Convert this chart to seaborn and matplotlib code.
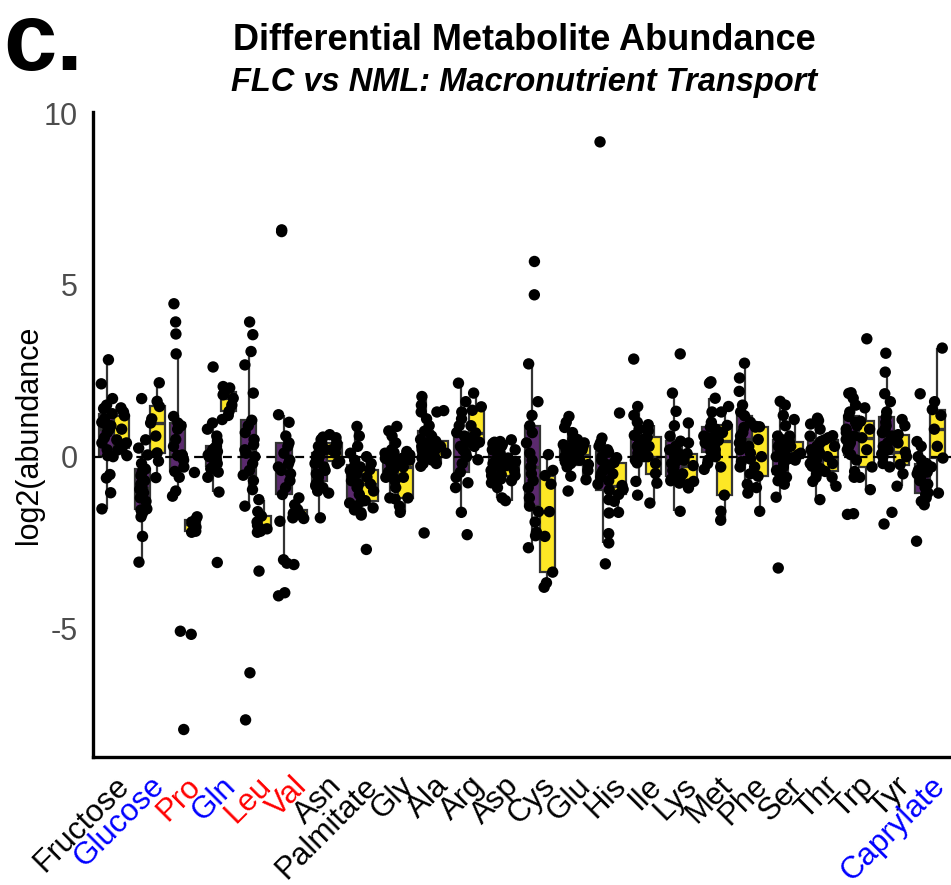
import numpy as np
import pandas as pd
import matplotlib
matplotlib.use("Agg")
import matplotlib.pyplot as plt
import seaborn as sns

## Data

metabolites = ["Fructose", "Glucose", "Pro", "Gln", "Leu", "Val", "Asn", "Palmitate",
               "Gly", "Ala", "Arg", "Asp", "Cys", "Glu", "His", "Ile", "Lys", "Met",
               "Phe", "Ser", "Thr", "Trp", "Tyr", "Caprylate"]
label_colors = ["black", "blue", "red", "blue", "red", "red", "black", "black",
                "black", "black", "black", "black", "black", "black", "black", "black",
                "black", "black", "black", "black", "black", "black", "black", "blue"]

# purple group (NML)
nml_values = [
    [-1.52, -1.05, -0.62, -0.52, 0.0, 0.03, 0.2, 0.4, 0.55, 0.7, 0.8, 0.9, 0.95, 1.0, 1.1, 1.25, 1.4, 1.5, 1.69, 2.12, 2.82],  # Fructose
    [-3.07, -2.32, -1.75, -1.65, -1.55, -1.52, -1.3, -1.2, -1.05, -0.95, -0.9, -0.8, -0.7, -0.55, -0.45, -0.36, -0.2, 0.05, 0.25, 0.49, 1.69],  # Glucose
    [-7.94, -5.08, -1.15, -1.0, -0.6, -0.43, -0.3, -0.1, 0.0, 0.03, 0.05, 0.3, 0.5, 0.8, 0.9, 0.98, 1.17, 2.99, 3.57, 3.92, 4.45],  # Pro
    [-3.08, -1.03, -0.6, -0.45, -0.35, -0.28, -0.2, -0.1, 0.0, 0.02, 0.05, 0.1, 0.15, 0.2, 0.25, 0.3, 0.45, 0.6, 0.8, 0.98, 2.61],  # Gln
    [-7.66, -6.29, -1.44, -0.96, -0.7, -0.54, -0.4, -0.2, 0.0, 0.1, 0.2, 0.35, 0.5, 0.7, 0.9, 1.06, 1.85, 2.67, 3.06, 3.55, 3.92],  # Leu
    [-4.05, -3.96, -3.1, -3.0, -1.88, -1.1, -0.9, -0.7, -0.5, -0.4, -0.3, -0.2, -0.1, 0.1, 0.3, 0.4, 0.6, 1.0, 1.22, 6.55, 6.6],  # Val
    [-1.78, -1.0, -0.9, -0.85, -0.8, -0.72, -0.6, -0.5, -0.4, -0.3, -0.2, -0.1, -0.05, 0.0, 0.05, 0.1, 0.2, 0.3, 0.4, 0.5, 0.57],  # Asn
    [-1.7, -1.63, -1.55, -1.45, -1.35, -1.3, -1.1, -0.9, -0.8, -0.7, -0.6, -0.55, -0.5, -0.4, -0.3, -0.25, -0.1, 0.1, 0.3, 0.6, 0.88],  # Palmitate
    [-1.23, -1.2, -0.9, -0.7, -0.6, -0.57, -0.45, -0.35, -0.25, -0.15, -0.1, -0.05, 0.0, 0.05, 0.1, 0.12, 0.2, 0.4, 0.6, 0.75, 0.88],  # Gly
    [-2.22, -0.28, -0.2, -0.1, -0.05, -0.04, 0.05, 0.15, 0.2, 0.25, 0.3, 0.35, 0.4, 0.5, 0.6, 0.74, 0.9, 1.1, 1.3, 1.5, 1.75],  # Ala
    [-2.27, -1.62, -0.9, -0.76, -0.6, -0.45, -0.2, 0.0, 0.1, 0.2, 0.3, 0.4, 0.5, 0.55, 0.6, 0.7, 0.9, 1.1, 1.3, 1.6, 2.14],  # Arg
    [-1.2, -0.9, -0.76, -0.65, -0.55, -0.52, -0.4, -0.3, -0.2, -0.15, -0.1, -0.05, 0.0, 0.1, 0.2, 0.3, 0.35, 0.38, 0.4, 0.42, 0.44],  # Asp
    [-2.65, -2.3, -2.2, -1.9, -1.6, -1.44, -1.2, -0.9, -0.7, -0.5, -0.3, -0.1, 0.1, 0.4, 0.7, 0.9, 1.2, 1.6, 2.7, 4.71, 5.68],  # Cys
    [-1.0, -0.57, -0.3, -0.2, -0.15, -0.09, -0.05, 0.0, 0.05, 0.08, 0.1, 0.15, 0.2, 0.25, 0.3, 0.35, 0.5, 0.7, 0.85, 1.0, 1.17],  # Glu
    [-3.12, -2.51, -2.24, -1.64, -1.25, -0.97, -0.8, -0.7, -0.6, -0.5, -0.4, -0.3, -0.2, -0.1, 0.0, 0.13, 0.2, 0.3, 0.4, 0.54, 9.16],  # His
    [-1.12, -0.72, -0.18, -0.1, 0.0, 0.03, 0.1, 0.15, 0.2, 0.25, 0.3, 0.35, 0.4, 0.45, 0.5, 0.62, 0.8, 1.0, 1.2, 1.46, 2.84],  # Ile
    [-1.59, -0.77, -0.7, -0.65, -0.6, -0.57, -0.4, -0.3, -0.2, -0.15, -0.1, 0.0, 0.1, 0.2, 0.3, 0.45, 0.6, 0.9, 1.32, 1.85, 2.99],  # Lys
    [-0.37, -0.2, -0.1, 0.0, 0.1, 0.15, 0.2, 0.3, 0.35, 0.4, 0.5, 0.55, 0.6, 0.7, 0.8, 0.86, 1.0, 1.3, 1.7, 2.14, 2.18],  # Met
    [-1.06, -0.8, -0.5, -0.3, -0.15, -0.07, 0.1, 0.2, 0.3, 0.4, 0.5, 0.6, 0.7, 0.85, 1.0, 1.19, 1.3, 1.5, 1.9, 2.29, 2.72],  # Phe
    [-3.24, -1.18, -0.8, -0.7, -0.6, -0.49, -0.4, -0.3, -0.2, -0.1, 0.0, 0.1, 0.2, 0.3, 0.4, 0.49, 0.6, 0.9, 1.2, 1.5, 1.61],  # Ser
    [-1.25, -0.72, -0.6, -0.5, -0.35, -0.28, -0.2, -0.1, 0.0, 0.05, 0.1, 0.15, 0.2, 0.3, 0.4, 0.45, 0.6, 0.8, 0.95, 1.05, 1.12],  # Thr
    [-1.68, -1.66, -0.6, -0.43, -0.1, 0.06, 0.2, 0.3, 0.4, 0.5, 0.6, 0.7, 0.8, 0.9, 1.0, 1.17, 1.3, 1.5, 1.7, 1.84, 1.86],  # Trp
    [-1.96, -1.62, -0.3, -0.2, 0.0, 0.08, 0.2, 0.3, 0.4, 0.5, 0.6, 0.7, 0.8, 0.9, 1.0, 1.15, 1.3, 1.6, 1.83, 2.46, 3.01],  # Tyr
    [-2.46, -1.4, -1.3, -1.2, -1.1, -1.05, -0.9, -0.8, -0.7, -0.6, -0.5, -0.45, -0.4, -0.3, -0.25, -0.2, -0.1, 0.0, 0.3, 0.44, 1.83],  # Caprylate
]

# yellow group (FLC)
flc_values = [
    [0.03, 0.2, 0.25, 0.4, 0.49, 0.8, 1.19, 1.3, 1.42],  # Fructose
    [-0.61, -0.13, 0.11, 0.6, 0.98, 1.1, 1.46, 1.61, 2.15],  # Glucose
    [-5.17, -2.2, -2.17, -2.05, -1.95, -1.9, -1.83, -1.75, -0.46],  # Pro
    [1.08, 1.2, 1.32, 1.5, 1.7, 1.8, 1.87, 2.0, 2.04],  # Gln
    [-3.33, -2.2, -2.17, -2.1, -2.0, -1.9, -1.73, -1.6, -1.25],  # Leu
    [-3.14, -1.8, -1.78, -1.7, -1.65, -1.6, -1.54, -1.4, -1.2],  # Val
    [-1.06, -0.2, -0.14, 0.1, 0.2, 0.3, 0.4, 0.55, 0.64],  # Asn
    [-2.7, -1.49, -1.28, -1.0, -0.8, -0.6, -0.38, -0.2, 0.0],  # Palmitate
    [-1.62, -1.44, -1.2, -0.6, -0.3, -0.1, -0.04, 0.05, 0.15],  # Gly
    [-0.2, -0.05, -0.02, 0.1, 0.2, 0.3, 0.45, 1.3, 1.34],  # Ala
    [-0.09, 0.3, 0.42, 0.55, 0.69, 0.9, 1.35, 1.45, 1.85],  # Arg
    [-1.28, -0.7, -0.55, -0.4, -0.26, -0.15, -0.04, 0.2, 0.49],  # Asp
    [-3.8, -3.67, -3.36, -2.32, -1.6, -0.8, -0.55, -0.4, 0.06],  # Cys
    [-0.67, -0.4, -0.23, -0.1, 0.05, 0.2, 0.3, 0.4, 0.5],  # Glu
    [-1.62, -1.3, -1.1, -0.95, -0.84, -0.5, -0.17, -0.03, 1.27],  # His
    [-1.35, -0.77, -0.49, -0.2, 0.0, 0.3, 0.57, 0.75, 0.93],  # Ile
    [-0.91, -0.8, -0.72, -0.5, -0.26, -0.1, 0.09, 0.4, 0.98],  # Lys
    [-1.85, -1.59, -1.12, -0.3, 0.47, 0.7, 0.91, 1.3, 1.46],  # Met
    [-1.59, -0.9, -0.57, -0.3, 0.0, 0.5, 0.86, 0.87, 0.88],  # Phe
    [-0.1, -0.05, -0.04, 0.05, 0.1, 0.3, 0.42, 0.6, 1.08],  # Ser
    [-0.86, -0.6, -0.43, -0.2, 0.0, 0.3, 0.49, 0.55, 0.61],  # Thr
    [-0.96, -0.6, -0.3, 0.2, 0.55, 0.8, 1.03, 1.42, 3.43],  # Trp
    [-0.86, -0.5, -0.23, 0.0, 0.13, 0.4, 0.64, 0.9, 1.08],  # Tyr
    [-1.06, -0.3, -0.04, 0.3, 0.8, 1.2, 1.37, 1.6, 3.16],  # Caprylate
]

groups = ["NML", "FLC"]
group_colors = {"NML": "#5b2a6e", "FLC": "#fde725"}

rows = []
for name, a, b in zip(metabolites, nml_values, flc_values):
    rows += [(name, "NML", v) for v in a]
    rows += [(name, "FLC", v) for v in b]
df = pd.DataFrame(rows, columns=["metabolite", "group", "abundance"])

## Plot

sns.set_style("white")
plt.rcParams["font.family"] = ["Liberation Sans", "DejaVu Sans"]
plt.rcParams["text.color"] = "black"
plt.rcParams["axes.labelcolor"] = "black"

fig = plt.figure(figsize=(9.51, 8.85), dpi=100)
ax = fig.add_axes([93 / 951, 1 - 757 / 885, 1 - 93 / 951, (757 - 112) / 885])

sns.boxplot(
    data=df, x="metabolite", y="abundance", hue="group",
    order=metabolites, hue_order=groups, palette=group_colors,
    saturation=1, width=0.85, gap=0, showfliers=False, showcaps=False,
    linewidth=1.6, linecolor="#333333", legend=False, ax=ax,
    medianprops=dict(linewidth=2.4),
)
ax.axhline(0, color="black", ls=(0, (4, 2.5)), lw=1.6, zorder=2.5)

np.random.seed(7)
sns.stripplot(
    data=df, x="metabolite", y="abundance", hue="group",
    order=metabolites, hue_order=groups,
    palette={"NML": "black", "FLC": "black"},
    dodge=True, jitter=0.35, size=8.2, linewidth=0,
    legend=False, ax=ax, zorder=3,
)

ax.set_xlim(-0.6, len(metabolites) - 0.4)
ax.set_ylim(-8.74, 10.03)
ax.set_yticks([-5, 0, 5, 10])
ax.set_yticklabels(["-5", "0", "5", "10"], fontsize=22, color="#4d4d4d")
ax.set_xticks(range(len(metabolites)))
ax.set_xticklabels(metabolites, fontsize=22.5, rotation=45, ha="right",
                   va="top", rotation_mode="anchor")
for lab, c in zip(ax.get_xticklabels(), label_colors):
    lab.set_color(c)
ax.tick_params(axis="both", length=5, width=1.1, color="#333333")
ax.tick_params(axis="x", pad=5)
ax.tick_params(axis="y", pad=6)
ax.set_xlabel("")
ax.set_ylabel("log2(abundance", fontsize=22, labelpad=0, color="black")

sns.despine(ax=ax)
for s in ["left", "bottom"]:
    ax.spines[s].set_linewidth(2.4)
    ax.spines[s].set_color("black")

fig.text(0.003, 1 - 70 / 885, "c.", fontsize=69, fontweight="heavy",
         ha="left", va="baseline", color="black")
fig.text(524 / 951, 1 - 40 / 885, "Differential Metabolite Abundance",
         fontsize=26, fontweight="bold", ha="center", va="center", color="black")
fig.text(524 / 951, 1 - 83 / 885, "FLC vs NML: Macronutrient Transport",
         fontsize=23.5, fontweight="bold", style="italic", ha="center",
         va="center", color="black")

fig.savefig("out.png", dpi=100)
